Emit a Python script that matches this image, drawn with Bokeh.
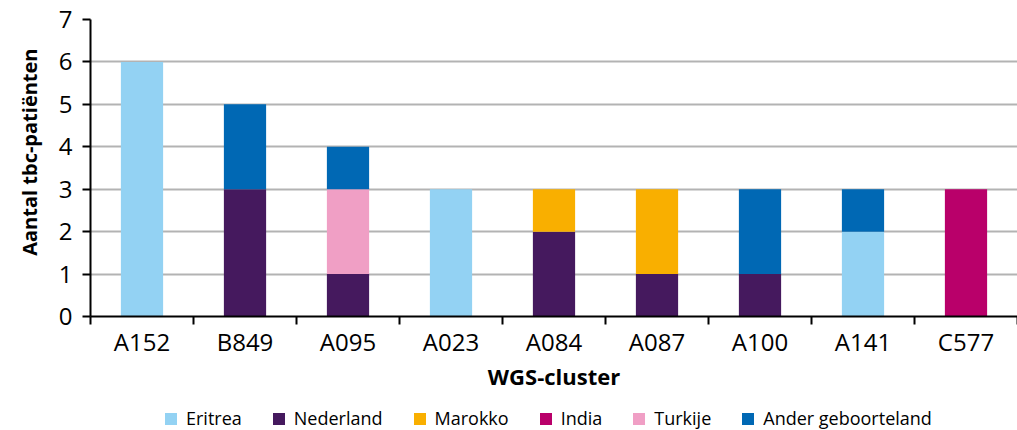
from bokeh.plotting import figure
from bokeh.models import ColumnDataSource, Legend, LegendItem, FixedTicker, Range1d, Title
from bokeh.layouts import column
from bokeh.embed import file_html
from bokeh.resources import INLINE

categories = ["A152", "B849", "A095", "A023", "A084", "A087", "A100", "A141", "C577"]
series = ["Eritrea", "Nederland", "Marokko", "India", "Turkije", "Ander geboorteland"]
eritrea   = [6, 0, 0, 3, 0, 0, 0, 2, 0]
nederland = [0, 3, 1, 0, 2, 1, 1, 0, 0]
marokko   = [0, 0, 0, 0, 1, 2, 0, 0, 0]
india     = [0, 0, 0, 0, 0, 0, 0, 0, 3]
turkije   = [0, 0, 2, 0, 0, 0, 0, 0, 0]
ander     = [0, 2, 1, 0, 0, 0, 2, 1, 0]
colors = ["#93d2f3", "#45195e", "#f9af00", "#b9006a", "#f09fc5", "#0068b4"]
y_ticks = [0, 1, 2, 3, 4, 5, 6, 7]

FONT = "Open Sans"

xpos = [i + 0.5 for i in range(len(categories))]
src = ColumnDataSource(dict(x=xpos, s0=eritrea, s1=nederland, s2=marokko,
                            s3=india, s4=turkije, s5=ander))
keys = ["s0", "s1", "s2", "s3", "s4", "s5"]

p = figure(width=1017, height=400, output_backend="svg", toolbar_location=None,
           x_range=Range1d(0, len(categories)), y_range=Range1d(0, 7),
           min_border_left=89, min_border_right=0, min_border_top=19,
           min_border_bottom=84)
p.outline_line_color = None

renderers = p.vbar_stack(keys, x="x", width=0.41, color=colors, source=src,
                         line_color=None)

p.xgrid.grid_line_color = None
p.ygrid.grid_line_color = "#b3b3b3"
p.ygrid.grid_line_width = 2
p.ygrid.ticker = FixedTicker(ticks=y_ticks)

# x axis: labels at centres, tick marks at category boundaries
xa = p.xaxis[0]
xa.ticker = FixedTicker(ticks=xpos, minor_ticks=list(range(len(categories) + 1)))
xa.major_label_overrides = {x: c for x, c in zip(xpos, categories)}
xa.major_tick_line_color = None
xa.major_tick_out = 8
xa.major_tick_in = 0
xa.minor_tick_line_color = "black"
xa.minor_tick_line_width = 2
xa.minor_tick_out = 8
xa.minor_tick_in = 0
xa.axis_line_color = "black"
xa.axis_line_width = 2
xa.major_label_text_font = FONT
xa.major_label_text_font_size = "24px"
xa.major_label_text_color = "black"
xa.major_label_standoff = 0
xa.axis_label = "WGS-cluster"
xa.axis_label_text_font = FONT
xa.axis_label_text_font_size = "22px"
xa.axis_label_text_font_style = "bold"
xa.axis_label_text_color = "black"
xa.axis_label_standoff = 0

ya = p.yaxis[0]
ya.ticker = FixedTicker(ticks=y_ticks)
ya.minor_tick_line_color = None
ya.major_tick_out = 8
ya.major_tick_in = 0
ya.major_tick_line_width = 2
ya.major_tick_line_color = "black"
ya.axis_line_color = "black"
ya.axis_line_width = 2
ya.major_label_text_font = FONT
ya.major_label_text_font_size = "24px"
ya.major_label_text_color = "black"
ya.major_label_standoff = 10

# y-axis title as a side title, placed near the top like in the reference
p.add_layout(Title(text="Aantal tbc-patiënten", align="right", offset=29,
                   text_font=FONT, text_font_size="20px", text_font_style="bold",
                   text_color="black", standoff=26), "left")

# legend in its own strip below the chart (hidden copies of the same bars)
lg = figure(width=1017, height=30, output_backend="svg", toolbar_location=None,
            x_axis_location=None, y_axis_location=None,
            x_range=Range1d(0, len(categories)), y_range=Range1d(0, 7),
            min_border=0, min_border_left=0, min_border_right=0,
            min_border_top=0, min_border_bottom=0)
lg.grid.visible = False
lg.outline_line_color = None
lg_renderers = lg.vbar_stack(keys, x="x", width=0.41, color=colors, source=src,
                             line_color=None)
for r in lg_renderers:
    r.visible = False
items = [LegendItem(label=s, renderers=[r]) for s, r in zip(series, lg_renderers)]
legend = Legend(items=items, orientation="horizontal", location=(73, 0),
                label_text_font=FONT, label_text_font_size="18px",
                label_text_color="black", glyph_width=15, glyph_height=15,
                label_standoff=8, spacing=29, padding=0, margin=0,
                inactive_fill_alpha=0,
                border_line_color=None, background_fill_alpha=0)
lg.add_layout(legend, "center")

layout = column(p, lg, spacing=0)
open("out.html", "w").write(file_html(layout, INLINE))
